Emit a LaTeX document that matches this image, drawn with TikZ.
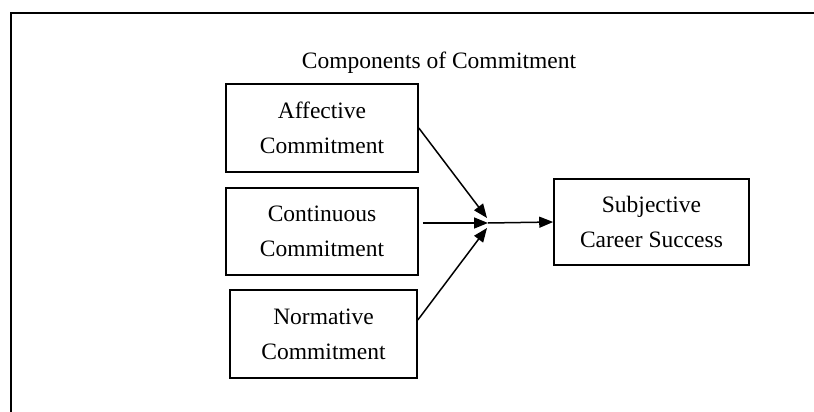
\documentclass[tikz,border=0pt]{standalone}
\usepackage{fontspec}
\setmainfont{Liberation Serif}
\usetikzlibrary{arrows.meta,calc}
\begin{document}
\begin{tikzpicture}[x=1pt,y=-1pt,
  box/.style={draw, line width=1.6pt, align=center, inner sep=0pt,
    font=\fontsize{23.5}{35}\selectfont},
  arr/.style={line width=1.5pt, -{Triangle[length=14pt,width=11pt]}},
  frame/.style={line width=2.2pt}]
\useasboundingbox (0,0) rectangle (814,412);
\draw[frame] (11,412) -- (11,13) -- (814,13);
\node[font=\fontsize{23.5}{35}\selectfont] (title) at (439,63) {Components of Commitment};
\node[box, minimum width=192, minimum height=88] (aff) at (322,128) {Affective\\Commitment};
\node[box, minimum width=192, minimum height=87] (cont) at (322,231.5) {Continuous\\Commitment};
\node[box, minimum width=187, minimum height=88] (nor) at (323.5,334) {Normative\\Commitment};
\node[box, minimum width=195, minimum height=86] (subj) at (651.5,222) {Subjective\\Career Success};
\coordinate (j) at (488,223);
\coordinate (ja) at (487,218);
\coordinate (jc) at (487,228);
\draw[arr] (aff.east) -- (ja);
\draw[arr] ($(cont.east |- j)+(4,0)$) -- (j);
\draw[arr] ($(nor.east)+(0,-14)$) -- (jc);
\draw[arr] (j) -- (subj.west);
\end{tikzpicture}
\end{document}
